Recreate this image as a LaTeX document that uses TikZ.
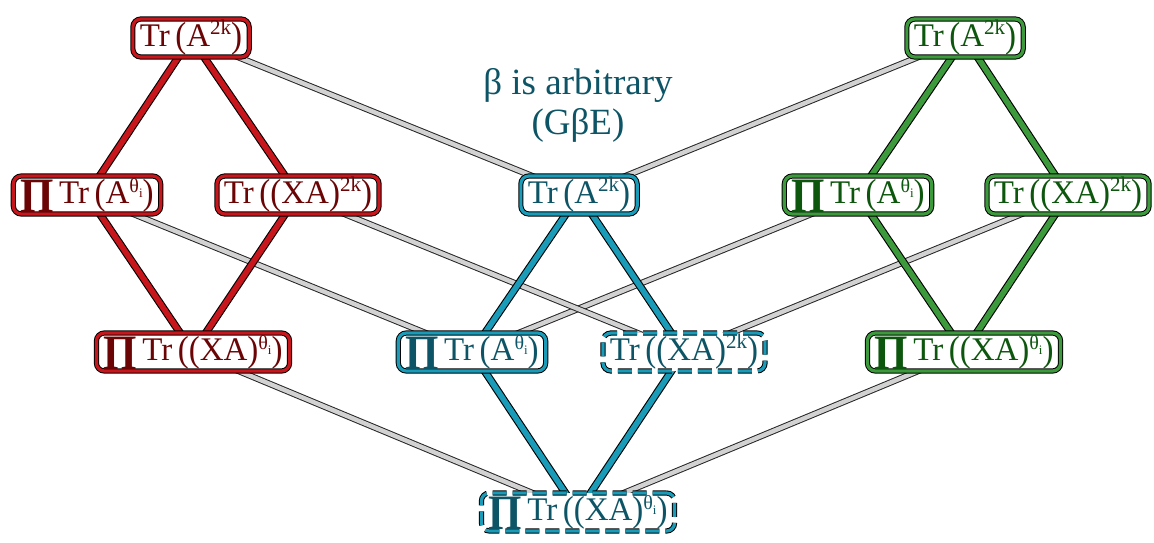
\documentclass[tikz,border=0pt]{standalone}
\usepackage{fontspec}
\setmainfont{Liberation Serif}
\usetikzlibrary{backgrounds}
\definecolor{cR}{HTML}{C8161D}
\definecolor{cG}{HTML}{3C9A3C}
\definecolor{cB}{HTML}{1A9BB8}
\definecolor{tR}{HTML}{6B0505}
\definecolor{tG}{HTML}{0D560D}
\definecolor{tB}{HTML}{0D5566}
\definecolor{cGray}{HTML}{D2D2D2}
\newcommand\myup[1]{\raisebox{12pt}{\fontsize{21}{21}\selectfont #1}}
\newcommand\myth{\raisebox{11pt}{\fontsize{20}{20}\selectfont θ\raisebox{-5pt}{\fontsize{13}{13}\selectfont i}}}
\newcommand\myprod{\raisebox{-9pt}{\scalebox{1.3}[1.5]{\textbf{Π}}}\,}
\newcommand\lpar{\raisebox{-1pt}{\scalebox{1}[1.1]{(}}}
\newcommand\rpar{\raisebox{-1pt}{\scalebox{1}[1.1]{)}}}
\newcommand\TA[1]{Tr\,\lpar A\myup{#1}\rpar}
\newcommand\TXA[1]{Tr\,\lpar\lpar XA\rpar\myup{#1}\rpar}
\newcommand\PTA{\myprod Tr\,\lpar A\myth\rpar}
\newcommand\PTXA{\myprod Tr\,\lpar\lpar XA\rpar\myth\rpar}
\tikzset{
  box/.style={draw=black, line width=1pt, double distance=3.2pt, fill=white,
    rounded corners=8pt, font=\fontsize{33}{38}\selectfont,
    text height=23pt, text depth=7pt, inner xsep=7pt, inner ysep=4pt},
  rbox/.style={box, double=cR, text=tR},
  gbox/.style={box, double=cG, text=tG},
  bbox/.style={box, double=cB, text=tB},
  dbox/.style={bbox, dash pattern=on 14pt off 6pt},
  cedge/.style={draw=black, line width=1.1pt, double distance=5.6pt},
  redge/.style={cedge, double=cR},
  gedge/.style={cedge, double=cG},
  bedge/.style={cedge, double=cB},
  grayedge/.style={draw=black!85, line width=1pt, double=cGray, double distance=4.4pt},
}
\begin{document}
\begin{tikzpicture}[x=1pt,y=-1pt]
\useasboundingbox (0,0) rectangle (1154,542);
% red
\node[rbox] (R1) at (191,38) {\TA{2k}};
\node[rbox] (R2) at (87,195) {\PTA};
\node[rbox] (R3) at (298,195) {\TXA{2k}};
\node[rbox] (R4) at (193,352) {\PTXA};
% blue
\node[bbox] (B1) at (579,195) {\TA{2k}};
\node[bbox] (B2) at (472,352) {\PTA};
\node[dbox] (B3) at (684,352) {\TXA{2k}};
\node[dbox] (B4) at (578,512) {\PTXA};
% green
\node[gbox] (G1) at (965,38) {\TA{2k}};
\node[gbox] (G2) at (858,195) {\PTA};
\node[gbox] (G3) at (1068,195) {\TXA{2k}};
\node[gbox] (G4) at (964,352) {\PTXA};
% label
\node[text=tB, font=\fontsize{37}{40}\selectfont, align=center] (L) at (578,105) {β is arbitrary\\(GβE)};
\begin{scope}[on background layer]
  \foreach \a/\b in {R1/B1, G1/B1, R2/B2, G2/B2, R3/B3, G3/B3, R4/B4, G4/B4}
    \draw[grayedge] (\a.center) -- (\b.center);
  \foreach \a/\b in {R1/R2, R1/R3, R2/R4, R3/R4}
    \draw[redge] (\a.center) -- (\b.center);
  \foreach \a/\b in {G1/G2, G1/G3, G2/G4, G3/G4}
    \draw[gedge] (\a.center) -- (\b.center);
  \foreach \a/\b in {B1/B2, B1/B3, B2/B4, B3/B4}
    \draw[bedge] (\a.center) -- (\b.center);
\end{scope}
\end{tikzpicture}
\end{document}
